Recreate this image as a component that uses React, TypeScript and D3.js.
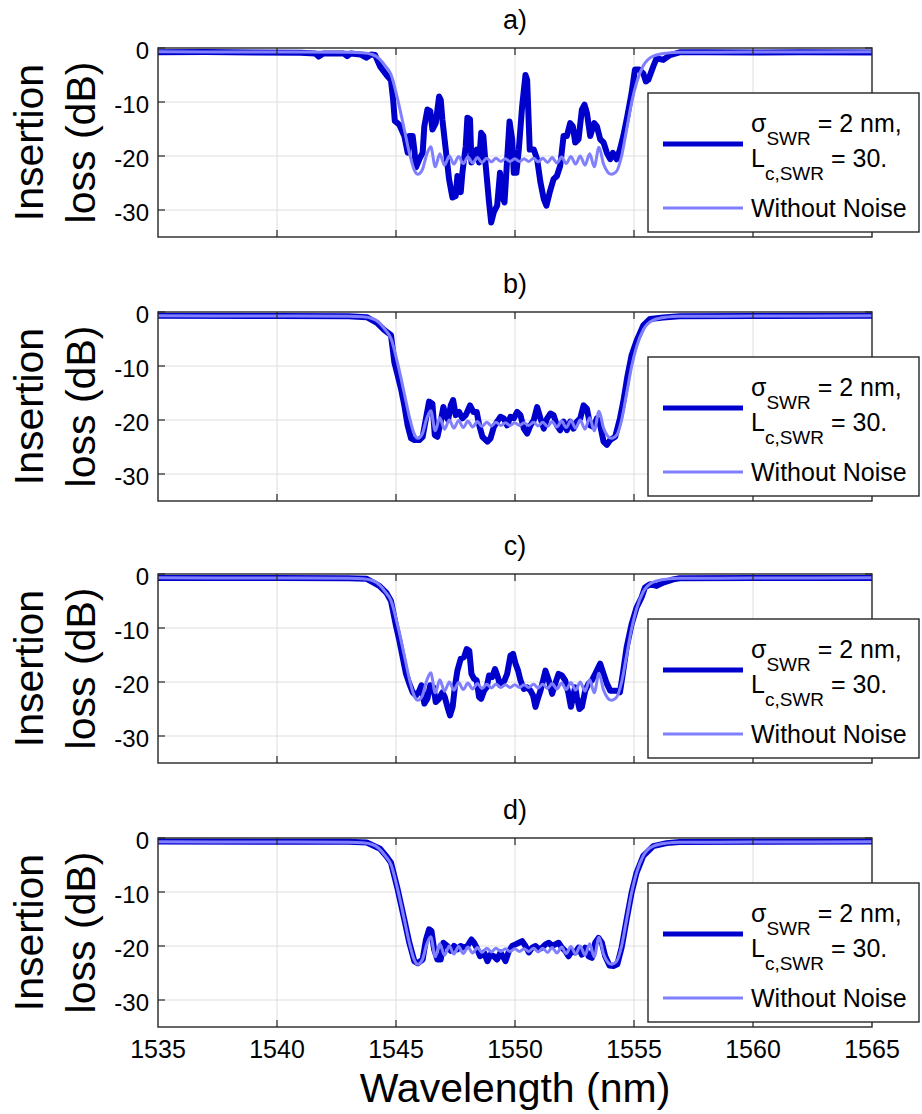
import React from 'react';
import * as d3 from 'd3';

type Pt = [number, number];

const X_TICKS = [1535, 1540, 1545, 1550, 1555, 1560, 1565];
const Y_TICKS = [0, -10, -20, -30];
const PANEL_LABELS = ['a)', 'b)', 'c)', 'd)'];
const LEGEND_NOISE_MAIN = 'σ';
const LEGEND_NOISE_SUB1 = 'SWR';
const LEGEND_NOISE_TAIL1 = ' = 2 nm,';
const LEGEND_NOISE_L = 'L';
const LEGEND_NOISE_SUB2 = 'c,SWR';
const LEGEND_NOISE_TAIL2 = ' = 30.';
const LEGEND_CLEAN = 'Without Noise';

// Response without noise (same in every panel)
const CLEAN: Pt[] = [
  [1535, -0.7], [1540, -0.75], [1543.0, -0.8], [1543.6, -0.9], [1544.0, -1.2], [1544.3, -2.0],
  [1544.55, -3.3], [1544.79, -4.9], [1545.07, -9.5], [1545.35, -15.1], [1545.56, -19.4],
  [1545.77, -22.6], [1545.92, -23.4], [1546.1, -22.6], [1546.3, -19.6], [1546.46, -18.3],
  [1546.65, -22.0], [1546.84, -19.6], [1547.04, -21.7], [1547.24, -20.0], [1547.43, -21.5],
  [1547.63, -20.1], [1547.83, -21.4], [1548.02, -20.2], [1548.22, -21.3], [1548.42, -20.3],
  [1548.61, -21.2], [1548.81, -20.4], [1549.01, -21.1], [1549.20, -20.4], [1549.40, -21.0],
  [1549.60, -20.5], [1549.79, -21.0], [1549.99, -20.5], [1550.19, -21.0], [1550.38, -20.5],
  [1550.58, -21.0], [1550.78, -20.4], [1550.97, -21.1], [1551.17, -20.4], [1551.37, -21.2],
  [1551.56, -20.3], [1551.76, -21.3], [1551.96, -20.2], [1552.15, -21.4], [1552.35, -20.1],
  [1552.55, -21.5], [1552.74, -20.0], [1552.94, -21.7], [1553.14, -19.6], [1553.33, -22.0],
  [1553.53, -18.4], [1553.72, -21.5], [1553.9, -23.0], [1554.05, -23.4], [1554.27, -22.8],
  [1554.48, -20.0], [1554.69, -15.1], [1554.9, -10.1], [1555.11, -6.4], [1555.39, -3.3],
  [1555.81, -1.5], [1556.37, -0.95], [1556.92, -0.8], [1560, -0.75], [1565, -0.7],
];

const NOISY_A: Pt[] = [
  [1535, -0.8], [1537, -0.75], [1539, -0.85], [1541.0, -0.9], [1541.6, -1.0], [1541.75, -1.6],
  [1541.95, -1.0], [1542.8, -1.0], [1542.95, -1.5], [1543.1, -1.0], [1543.5, -1.2], [1543.75, -1.8],
  [1543.95, -1.2], [1544.12, -1.3], [1544.33, -3.4], [1544.6, -5.0], [1544.79, -6.0], [1544.88, -9.6],
  [1544.95, -13.5], [1545.14, -14.2], [1545.35, -16.3], [1545.49, -19.4], [1545.56, -16.3],
  [1545.70, -16.3], [1545.77, -18.8], [1545.84, -22.1], [1545.98, -20.6], [1546.12, -19.4],
  [1546.19, -14.5], [1546.32, -11.4], [1546.44, -11.7], [1546.53, -15.1], [1546.67, -13.9],
  [1546.81, -9.0], [1546.88, -9.6], [1546.95, -13.3], [1547.09, -18.8], [1547.23, -24.3],
  [1547.37, -27.7], [1547.51, -27.4], [1547.58, -23.7], [1547.72, -26.7], [1547.79, -23.1],
  [1547.93, -18.2], [1548.00, -12.9], [1548.11, -13.2], [1548.17, -21.2], [1548.28, -19.7],
  [1548.39, -18.8], [1548.49, -21.2], [1548.58, -15.7], [1548.67, -16.3], [1548.77, -21.8],
  [1548.91, -28.6], [1549.00, -32.3], [1549.11, -30.4], [1549.25, -29.2], [1549.37, -23.1],
  [1549.46, -27.4], [1549.56, -28.6], [1549.67, -20.6], [1549.77, -13.6], [1549.88, -16.9],
  [1549.95, -23.1], [1550.06, -23.1], [1550.16, -18.8], [1550.30, -10.8], [1550.44, -5.0],
  [1550.51, -5.9], [1550.62, -18.8], [1550.79, -18.8], [1550.93, -20.6], [1551.07, -24.9],
  [1551.21, -28.0], [1551.32, -29.2], [1551.46, -26.7], [1551.62, -24.3], [1551.76, -23.7],
  [1551.90, -21.8], [1552.04, -16.3], [1552.18, -16.3], [1552.32, -13.9], [1552.43, -14.5],
  [1552.53, -17.5], [1552.67, -16.9], [1552.81, -11.4], [1552.92, -10.5], [1553.02, -12.0],
  [1553.16, -16.3], [1553.33, -13.9], [1553.44, -14.5], [1553.58, -16.9], [1553.72, -17.5],
  [1553.86, -19.4], [1554.00, -20.6], [1554.11, -19.4], [1554.27, -20.6], [1554.41, -18.8],
  [1554.55, -16.3], [1554.72, -12.6], [1554.90, -8.3], [1555.04, -4.0], [1555.22, -4.0],
  [1555.39, -4.7], [1555.50, -6.2], [1555.60, -5.9], [1555.81, -3.4], [1555.95, -1.9],
  [1556.23, -2.2], [1556.51, -1.3], [1556.92, -0.8], [1558, -0.8], [1560, -0.85], [1562, -0.8],
  [1565, -0.85],
];

const NOISY_B: Pt[] = [
  [1535, -0.7], [1540, -0.75], [1543.0, -0.8], [1543.77, -0.95], [1544.2, -2.0], [1544.5, -3.3],
  [1544.79, -4.3], [1544.93, -9.3], [1545.07, -11.7], [1545.21, -14.2], [1545.35, -17.3],
  [1545.49, -21.0], [1545.63, -23.4], [1545.77, -23.7], [1545.98, -23.7], [1546.12, -23.1],
  [1546.26, -19.7], [1546.39, -16.6], [1546.53, -17.0], [1546.63, -22.8], [1546.74, -23.1],
  [1546.88, -20.3], [1546.99, -17.6], [1547.09, -19.1], [1547.19, -20.0], [1547.30, -17.3],
  [1547.40, -16.3], [1547.51, -19.1], [1547.65, -18.5], [1547.79, -19.7], [1547.93, -19.1],
  [1548.11, -17.3], [1548.25, -18.5], [1548.39, -18.5], [1548.50, -21.0], [1548.63, -23.1],
  [1548.84, -24.0], [1548.97, -23.4], [1549.11, -21.3], [1549.25, -20.3], [1549.39, -19.4],
  [1549.53, -19.7], [1549.67, -21.0], [1549.81, -19.4], [1549.95, -19.7], [1550.09, -18.5],
  [1550.23, -19.1], [1550.37, -21.6], [1550.51, -22.5], [1550.65, -21.0], [1550.79, -20.0],
  [1550.93, -17.6], [1551.07, -19.7], [1551.21, -21.6], [1551.35, -19.7], [1551.49, -18.8],
  [1551.62, -19.1], [1551.76, -21.0], [1551.90, -21.9], [1552.04, -20.3], [1552.18, -21.9],
  [1552.32, -20.3], [1552.46, -21.6], [1552.60, -20.3], [1552.74, -19.7], [1552.88, -17.3],
  [1553.02, -17.9], [1553.16, -21.0], [1553.30, -21.3], [1553.44, -19.7], [1553.58, -21.0],
  [1553.72, -24.0], [1553.86, -24.6], [1554.00, -23.7], [1554.21, -23.1], [1554.41, -19.7],
  [1554.55, -16.6], [1554.72, -12.0], [1554.90, -8.0], [1555.11, -5.3], [1555.39, -2.5],
  [1555.67, -1.3], [1556.23, -1.0], [1556.92, -0.8], [1560, -0.75], [1565, -0.7],
];

const NOISY_C: Pt[] = [
  [1535, -0.75], [1540, -0.75], [1543.0, -0.8], [1543.77, -0.9], [1544.3, -2.2], [1544.6, -3.5],
  [1544.79, -5.0], [1545.00, -9.6], [1545.14, -12.3], [1545.28, -15.4], [1545.42, -18.5],
  [1545.56, -20.3], [1545.70, -21.9], [1545.84, -22.5], [1545.98, -21.6], [1546.07, -20.6],
  [1546.19, -24.0], [1546.32, -23.1], [1546.44, -20.6], [1546.58, -21.0], [1546.67, -23.7],
  [1546.81, -23.1], [1546.95, -21.9], [1547.05, -22.8], [1547.16, -24.6], [1547.27, -26.2],
  [1547.38, -24.6], [1547.47, -21.0], [1547.58, -17.9], [1547.72, -15.7], [1547.86, -15.4],
  [1547.97, -13.9], [1548.08, -14.2], [1548.17, -18.5], [1548.28, -19.4], [1548.39, -19.7],
  [1548.49, -22.8], [1548.58, -23.1], [1548.70, -21.6], [1548.81, -21.0], [1548.91, -18.8],
  [1549.04, -19.1], [1549.16, -17.6], [1549.28, -19.1], [1549.37, -20.6], [1549.46, -20.3],
  [1549.56, -19.7], [1549.67, -18.5], [1549.81, -15.1], [1549.92, -14.8], [1550.02, -16.6],
  [1550.13, -17.9], [1550.23, -19.7], [1550.37, -21.3], [1550.51, -21.0], [1550.65, -21.6],
  [1550.76, -22.5], [1550.86, -24.6], [1550.96, -23.1], [1551.07, -21.6], [1551.18, -19.7],
  [1551.28, -17.9], [1551.42, -19.7], [1551.56, -22.2], [1551.69, -20.3], [1551.83, -18.5],
  [1551.97, -18.8], [1552.11, -19.7], [1552.25, -22.2], [1552.35, -24.6], [1552.43, -22.8],
  [1552.53, -21.0], [1552.60, -22.8], [1552.71, -25.0], [1552.81, -24.6], [1552.95, -21.6],
  [1553.09, -20.3], [1553.23, -19.7], [1553.37, -18.5], [1553.58, -16.6], [1553.72, -18.5],
  [1553.86, -20.3], [1554.00, -21.6], [1554.14, -21.6], [1554.27, -21.6], [1554.41, -21.9],
  [1554.53, -18.5], [1554.69, -13.6], [1554.90, -9.3], [1555.11, -6.2], [1555.32, -4.3],
  [1555.46, -2.5], [1555.67, -1.9], [1555.95, -2.2], [1556.23, -1.6], [1556.65, -1.0],
  [1556.92, -0.8], [1560, -0.75], [1565, -0.75],
];

const NOISY_D: Pt[] = [
  [1535, -0.65], [1540, -0.7], [1543.0, -0.7], [1543.77, -0.85], [1544.33, -2.0], [1544.6, -3.4],
  [1544.79, -4.6], [1545.07, -9.5], [1545.35, -15.1], [1545.56, -19.4], [1545.77, -22.8],
  [1545.91, -23.2], [1546.12, -22.5], [1546.26, -18.8], [1546.39, -16.9], [1546.49, -17.2],
  [1546.60, -20.6], [1546.74, -22.5], [1546.88, -22.5], [1546.99, -19.4], [1547.16, -20.0],
  [1547.30, -20.9], [1547.44, -20.0], [1547.58, -20.6], [1547.72, -20.0], [1547.86, -20.3],
  [1548.00, -20.0], [1548.17, -18.8], [1548.28, -19.4], [1548.39, -20.3], [1548.53, -21.9],
  [1548.70, -21.2], [1548.84, -22.8], [1548.97, -21.6], [1549.11, -21.9], [1549.25, -22.5],
  [1549.39, -21.2], [1549.60, -22.8], [1549.74, -21.0], [1549.88, -20.0], [1550.02, -19.7],
  [1550.16, -19.4], [1550.30, -19.1], [1550.44, -20.0], [1550.58, -21.2], [1550.72, -20.3],
  [1550.86, -20.0], [1551.00, -20.6], [1551.14, -20.3], [1551.28, -19.7], [1551.42, -19.4],
  [1551.56, -20.0], [1551.69, -19.7], [1551.83, -19.4], [1551.97, -20.3], [1552.11, -20.9],
  [1552.25, -21.9], [1552.39, -20.9], [1552.53, -21.2], [1552.67, -20.3], [1552.81, -21.6],
  [1552.95, -20.3], [1553.09, -21.9], [1553.23, -22.2], [1553.37, -19.4], [1553.51, -18.5],
  [1553.65, -19.4], [1553.79, -21.9], [1553.97, -23.6], [1554.14, -23.7], [1554.30, -23.4],
  [1554.48, -20.3], [1554.69, -15.1], [1554.90, -10.1], [1555.11, -6.4], [1555.39, -3.3],
  [1555.81, -1.5], [1556.37, -0.95], [1556.92, -0.75], [1560, -0.7], [1565, -0.65],
];

const NOISY = [NOISY_A, NOISY_B, NOISY_C, NOISY_D];

const FONT = '"Liberation Sans", Arial, Helvetica, sans-serif';
const DARK = '#0000cc';
const LIGHT = '#8080ff';
const AXIS = '#262626';
const GRID = '#dedede';

export default function App() {
  const W = 922;
  const H = 1114;
  const left = 158;
  const right = 872;
  const tops = [48, 312, 574, 838];
  const ph = 189;
  const x = d3.scaleLinear().domain([1535, 1565]).range([left, right]);
  const cx = (left + right) / 2;

  return (
    <div style={{ position: 'absolute', left: 0, top: 0 }}>
      <svg width={W} height={H} style={{ display: 'block', background: '#fff' }} fontFamily={FONT}>
        <defs>
          {tops.map((t, i) => (
            <clipPath id={`clip${i}`} key={i}>
              <rect x={left} y={t} width={right - left} height={ph} />
            </clipPath>
          ))}
        </defs>
        {tops.map((t, i) => {
          const y = d3.scaleLinear().domain([-35, 0]).range([t + ph, t]);
          const lineLin = d3.line<Pt>().x(d => x(d[0])).y(d => y(d[1])).curve(d3.curveLinear);
          const lineSmooth = d3.line<Pt>().x(d => x(d[0])).y(d => y(d[1])).curve(d3.curveMonotoneX);
          const midY = t + ph / 2;
          const lt = t + 45;
          return (
            <g key={i}>
              {X_TICKS.slice(1, -1).map(v => (
                <line key={'gx' + v} x1={x(v)} x2={x(v)} y1={t} y2={t + ph} stroke={GRID} strokeWidth={1} />
              ))}
              {Y_TICKS.slice(1).map(v => (
                <line key={'gy' + v} x1={left} x2={right} y1={y(v)} y2={y(v)} stroke={GRID} strokeWidth={1} />
              ))}
              <g clipPath={`url(#clip${i})`}>
                <path d={lineLin(NOISY[i]) || ''} fill="none" stroke={DARK} strokeWidth={6} strokeLinejoin="round" />
                <path d={lineSmooth(CLEAN) || ''} fill="none" stroke={LIGHT} strokeWidth={3} strokeLinejoin="round" />
              </g>
              <rect x={left} y={t} width={right - left} height={ph} fill="none" stroke={AXIS} strokeWidth={1.4} />
              {X_TICKS.slice(1, -1).map(v => (
                <g key={'tx' + v}>
                  <line x1={x(v)} x2={x(v)} y1={t + ph} y2={t + ph - 7} stroke={AXIS} strokeWidth={1.2} />
                  <line x1={x(v)} x2={x(v)} y1={t} y2={t + 7} stroke={AXIS} strokeWidth={1.2} />
                </g>
              ))}
              {Y_TICKS.map(v => (
                <g key={'ty' + v}>
                  <line x1={left} x2={left + 7} y1={y(v)} y2={y(v)} stroke={AXIS} strokeWidth={1.2} />
                  <line x1={right} x2={right - 7} y1={y(v)} y2={y(v)} stroke={AXIS} strokeWidth={1.2} />
                  <text x={left - 9} y={y(v) + 11} textAnchor="end" fontSize={24} fill="#000">{v}</text>
                </g>
              ))}
              <text x={cx} y={t - 19} textAnchor="middle" fontSize={27} fill="#000">{PANEL_LABELS[i]}</text>
              <text transform={`translate(43,${midY}) rotate(-90)`} textAnchor="middle" fontSize={41} fill="#000">Insertion</text>
              <text transform={`translate(95,${midY}) rotate(-90)`} textAnchor="middle" fontSize={41} fill="#000">loss (dB)</text>
              <rect x={648} y={lt} width={271} height={139} fill="#fff" stroke={AXIS} strokeWidth={1.4} />
              <line x1={663} x2={743} y1={lt + 51} y2={lt + 51} stroke={DARK} strokeWidth={5} />
              <line x1={663} x2={743} y1={lt + 115} y2={lt + 115} stroke={LIGHT} strokeWidth={3} />
              <text x={751} y={lt + 39} fontSize={25} fill="#000">
                {LEGEND_NOISE_MAIN}
                <tspan fontSize={19} dy={13}>{LEGEND_NOISE_SUB1}</tspan>
                <tspan dy={-13}>{LEGEND_NOISE_TAIL1}</tspan>
              </text>
              <text x={751} y={lt + 74} fontSize={25} fill="#000">
                {LEGEND_NOISE_L}
                <tspan fontSize={19} dy={13}>{LEGEND_NOISE_SUB2}</tspan>
                <tspan dy={-13}>{LEGEND_NOISE_TAIL2}</tspan>
              </text>
              <text x={751} y={lt + 124} fontSize={25} fill="#000">{LEGEND_CLEAN}</text>
            </g>
          );
        })}
        {X_TICKS.map(v => (
          <text key={'xl' + v} x={x(v)} y={1058} textAnchor="middle" fontSize={25} fill="#000">{v}</text>
        ))}
        <text x={cx} y={1102} textAnchor="middle" fontSize={41} fill="#000">Wavelength (nm)</text>
      </svg>
    </div>
  );
}
